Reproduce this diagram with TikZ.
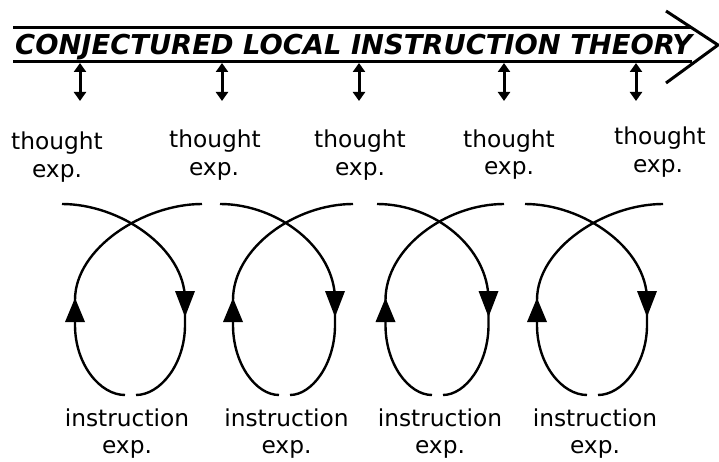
\documentclass[tikz,border=0pt]{standalone}
\usepackage{fontspec}
\setmainfont{DejaVu Sans}
\usetikzlibrary{arrows.meta}
\tikzset{
  barline/.style={line width=3pt},
  loopline/.style={line width=2.4pt},
  dblarrow/.style={line width=3pt,{Triangle[width=12pt,length=9pt]}-{Triangle[width=12pt,length=9pt]}},
  lbl/.style={inner sep=0pt,anchor=base,font=\fontsize{23.3}{28}\selectfont}
}
\begin{document}
\begin{tikzpicture}[x=1pt,y=-1pt]
\useasboundingbox (0,0) rectangle (719,462);
% top bar
\coordinate (barTL) at (13,28);
\coordinate (barBL) at (13,62);
\coordinate (chevT) at (666,11);
\coordinate (tip) at (718,45);
\coordinate (chevB) at (666,83);
\coordinate (barTR) at (692,28);
\coordinate (barBR) at (692,62);
\draw[barline] (barTL) -- (barTR);
\draw[barline] (barBL) -- (barBR);
\draw[barline,line join=miter] (chevT) -- (tip) -- (chevB);
\node[inner sep=0pt,anchor=base west] (title) at (15,55)
  {\resizebox{677pt}{!}{\bfseries\itshape CONJECTURED LOCAL INSTRUCTION THEORY}};
% double arrows
\foreach \x [count=\i] in {80,222,359,504,636}{
  \coordinate (ua\i) at (\x,63);
  \coordinate (da\i) at (\x,101);
  \draw[dblarrow] (ua\i) -- (da\i);
}
% thought labels
\foreach \x/\y/\xe/\ye [count=\i] in {57/150/57/178, 215/148/214/176, 360/148/360/176, 509/148/509/175, 660/145/658/173}{
  \node[lbl] (th\i) at (\x,\y) {thought};
  \node[lbl] (the\i) at (\xe,\ye) {exp.};
}
% loops
\foreach \c/\w/\L/\R [count=\i] in {130/55/-68/72, 284/51/-64/69, 437/51.5/-60/67, 592/55/-67/71}{
  \draw[loopline] (\c+\L,204) .. controls (\c+\L+58,204) and (\c+\w,248) .. (\c+\w,300)
     -- (\c+\w,325) .. controls (\c+\w,364) and (\c+0.55*\w,395) .. (\c+6,395);
  \draw[loopline] (\c-5,395) .. controls (\c-0.55*\w,395) and (\c-\w,364) .. (\c-\w,325)
     -- (\c-\w,300) .. controls (\c-\w,248) and (\c+\R-58,204) .. (\c+\R,204);
  \fill (\c+\w-10,291) -- (\c+\w+10,291) -- (\c+\w,317) -- cycle;
  \fill (\c-\w-10,322) -- (\c-\w+10,322) -- (\c-\w,298) -- cycle;
}
% instruction labels
\foreach \x [count=\i] in {127,286.5,440,595}{
  \node[lbl] (in\i) at (\x,426) {instruction};
  \node[lbl] (ine\i) at (\x,453) {exp.};
}
\end{tikzpicture}
\end{document}
